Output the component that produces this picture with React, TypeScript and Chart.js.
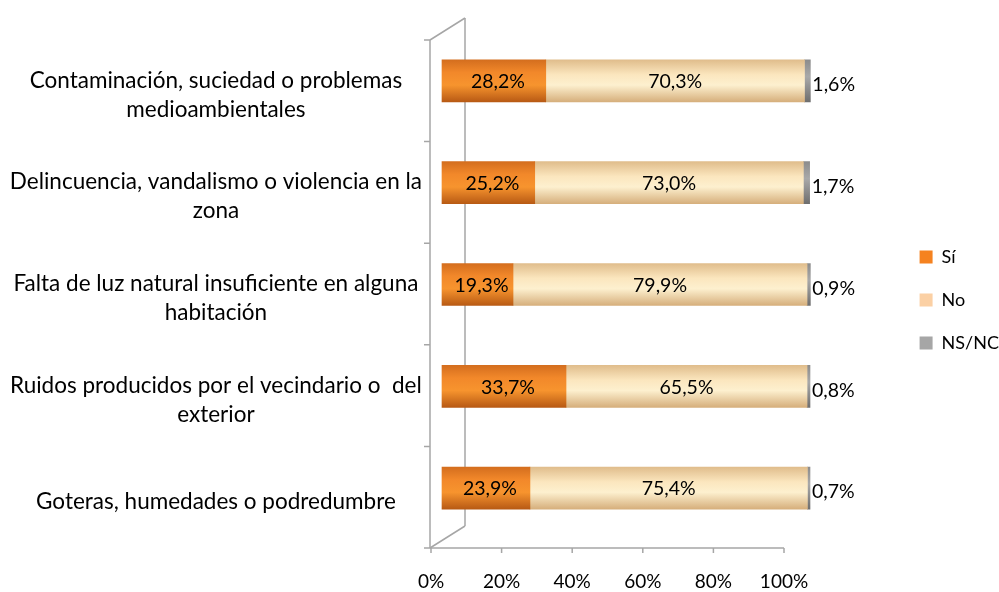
import React, { useEffect, useRef } from "react";
import { Chart, registerables } from "chart.js";

Chart.register(...registerables);

// ---------- data ----------
const categories: string[][] = [
  ["Contaminación, suciedad o problemas", "medioambientales"],
  ["Delincuencia, vandalismo o violencia en la", "zona"],
  ["Falta de luz natural insuficiente en alguna", "habitación"],
  ["Ruidos producidos por el vecindario o  del", "exterior"],
  ["Goteras, humedades o podredumbre"],
];
const seriesNames = ["Sí", "No", "NS/NC"];
const siValues = [28.2, 25.2, 19.3, 33.7, 23.9];
const noValues = [70.3, 73.0, 79.9, 65.5, 75.4];
const nsncValues = [1.6, 1.7, 0.9, 0.8, 0.7];
const tickValues = [0, 20, 40, 60, 80, 100];

// ---------- styles ----------
const FONT = "Lato, 'Open Sans', sans-serif";
const legendColors = ["#F58220", "#FBD0A4", "#A6A6A6"];
const gradStops: [number, string][][] = [
  [[0, "#D46E1E"], [0.3, "#F2882A"], [0.6, "#F7942E"], [1, "#B85A14"]],
  [[0, "#E0BD8C"], [0.35, "#FBE6BE"], [0.6, "#FDF0CF"], [1, "#D6AF7C"]],
  [[0, "#8C8C8C"], [0.4, "#A9A9A9"], [1, "#6E6E6E"]],
];
const BAR_H = 42;
const BAR_PX_PER_UNIT = 3.68; // bar scale
const BAR_ZERO_OFFSET = 12; // px from chartArea.left
const AXIS_PX_PER_UNIT = 3.53; // floor axis scale
const AXIS_ZERO_OFFSET = 1;

function fmt(v: number) {
  return v.toFixed(1).replace(".", ",") + "%";
}

function barFill(idx: number) {
  return (ctx: any) => {
    const chart = ctx.chart;
    const ys = chart.scales && chart.scales.y;
    if (!ys || ctx.dataIndex === undefined || !chart.chartArea) return legendColors[idx];
    const cy = ys.getPixelForValue(ctx.dataIndex);
    const g = chart.ctx.createLinearGradient(0, cy - BAR_H / 2, 0, cy + BAR_H / 2);
    gradStops[idx].forEach(([o, c]) => g.addColorStop(o, c));
    return g;
  };
}

const frame3d = {
  id: "frame3d",
  beforeDatasetsDraw(chart: any) {
    const { ctx, chartArea: ca, scales } = chart;
    const x2 = scales.x2;
    const fx = ca.left;
    const dx = 35;
    const dy = 22;
    const fTop = ca.top + 10;
    const fBot = ca.bottom + 9;
    ctx.save();
    ctx.strokeStyle = "#A6A6A6";
    ctx.lineWidth = 1.5;
    // back wall
    ctx.beginPath();
    ctx.moveTo(fx + dx, fTop - dy);
    ctx.lineTo(fx + dx, fBot - dy);
    ctx.stroke();
    // diagonals
    ctx.beginPath();
    ctx.moveTo(fx, fTop);
    ctx.lineTo(fx + dx, fTop - dy);
    ctx.moveTo(fx, fBot);
    ctx.lineTo(fx + dx, fBot - dy);
    ctx.stroke();
    // front wall
    ctx.beginPath();
    ctx.moveTo(fx, fTop);
    ctx.lineTo(fx, fBot);
    ctx.stroke();
    const n = categories.length;
    const step = (fBot - fTop) / n;
    ctx.beginPath();
    for (let i = 0; i <= n; i++) {
      const yy = fTop + i * step;
      ctx.moveTo(fx - 6, yy);
      ctx.lineTo(fx, yy);
    }
    ctx.stroke();
    // floor
    const xEnd = x2.getPixelForValue(tickValues[tickValues.length - 1]);
    ctx.beginPath();
    ctx.moveTo(fx, fBot);
    ctx.lineTo(xEnd, fBot);
    tickValues.forEach((v) => {
      const xx = x2.getPixelForValue(v);
      ctx.moveTo(xx, fBot);
      ctx.lineTo(xx, fBot + 5);
    });
    ctx.stroke();
    ctx.restore();
  },
};

const valueLabels = {
  id: "valueLabels",
  afterDatasetsDraw(chart: any) {
    const { ctx } = chart;
    ctx.save();
    ctx.fillStyle = "#000";
    ctx.font = `19.5px ${FONT}`;
    ctx.textBaseline = "middle";
    chart.data.datasets.forEach((ds: any, di: number) => {
      const meta = chart.getDatasetMeta(di);
      meta.data.forEach((bar: any, i: number) => {
        const v = ds.data[i];
        const txt = fmt(v);
        if (di < 2) {
          const c = bar.getCenterPoint();
          ctx.textAlign = "center";
          ctx.fillText(txt, c.x + (di === 0 ? 4 : 0), c.y + 1);
        } else {
          ctx.textAlign = "left";
          ctx.fillText(txt, bar.x + 2, bar.y + 4);
        }
      });
    });
    ctx.restore();
  },
};

export default function App() {
  const ref = useRef<HTMLCanvasElement | null>(null);
  useEffect(() => {
    if (!ref.current) return;
    const chart = new Chart(ref.current, {
      type: "bar",
      data: {
        labels: categories,
        datasets: [
          { label: seriesNames[0], data: siValues, backgroundColor: barFill(0), xAxisID: "x", yAxisID: "y" },
          { label: seriesNames[1], data: noValues, backgroundColor: barFill(1), xAxisID: "x", yAxisID: "y" },
          { label: seriesNames[2], data: nsncValues, backgroundColor: barFill(2), xAxisID: "x", yAxisID: "y" },
        ],
      },
      options: {
        indexAxis: "y",
        animation: false,
        responsive: false,
        maintainAspectRatio: false,
        barThickness: BAR_H,
        layout: { padding: { top: 30, right: -10, left: 0, bottom: 0 } },
        scales: {
          x: {
            type: "linear",
            display: false,
            stacked: true,
            bounds: "data",
            beforeBuildTicks: (s: any) => {
              s.min = -BAR_ZERO_OFFSET / BAR_PX_PER_UNIT;
              s.max = s.min + s.width / BAR_PX_PER_UNIT;
            },
          },
          x2: {
            type: "linear",
            position: "bottom",
            bounds: "data",
            grid: { display: false },
            border: { display: false },
            beforeBuildTicks: (s: any) => {
              s.min = -AXIS_ZERO_OFFSET / AXIS_PX_PER_UNIT;
              s.max = s.min + s.width / AXIS_PX_PER_UNIT;
            },
            afterBuildTicks: (s: any) => {
              s.ticks = tickValues.map((v) => ({ value: v }));
            },
            afterFit: (s: any) => {
              s.height = 53;
            },
            ticks: {
              padding: 23,
              autoSkip: false,
              maxRotation: 0,
              color: "#000",
              font: { family: FONT, size: 19 },
              callback: (v: any) => v + "%",
            },
          },
          y: {
            type: "category",
            stacked: true,
            grid: { display: false },
            border: { display: false },
            afterFit: (s: any) => {
              s.width = 430;
            },
            ticks: {
              crossAlign: "center",
              padding: 0,
              labelOffset: 14,
              color: "#000",
              font: { family: FONT, size: 22.5, lineHeight: 1.29 },
            },
          },
        },
        plugins: {
          legend: {
            position: "right",
            fullSize: false,
            align: "center",
            title: { display: true, text: "", font: { size: 10 }, padding: { top: 0, bottom: 19 } },
            labels: {
              boxWidth: 13,
              boxHeight: 13,
              padding: 25,
              color: "#000",
              font: { family: FONT, size: 18 },
              generateLabels: () =>
                seriesNames.map((n, i) => ({
                  text: n,
                  fillStyle: legendColors[i],
                  strokeStyle: legendColors[i],
                  lineWidth: 0,
                  hidden: false,
                  datasetIndex: i,
                  fontColor: "#000",
                })),
            },
          },
          tooltip: { enabled: false },
        },
      } as any,
      plugins: [frame3d, valueLabels],
    });
    return () => chart.destroy();
  }, []);
  return (
    <div style={{ position: "absolute", left: 0, top: 0, width: 999, height: 592, background: "#fff" }}>
      <canvas ref={ref} width={999} height={592} style={{ width: 999, height: 592, display: "block" }} />
    </div>
  );
}
